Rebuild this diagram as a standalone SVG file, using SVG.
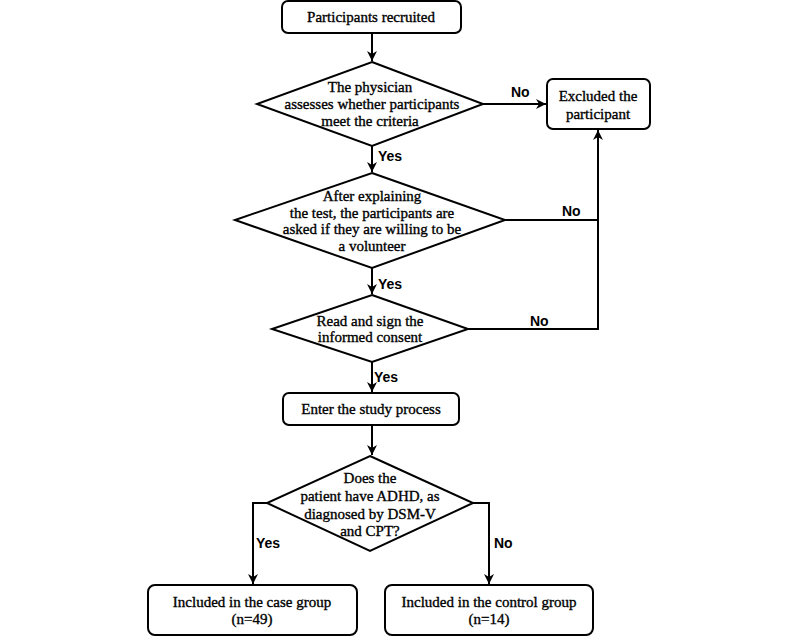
<svg xmlns="http://www.w3.org/2000/svg" width="800" height="637" viewBox="0 0 800 637">
<style>
.box{fill:#fff;stroke:#000;stroke-width:2}
.dia{fill:#fff;stroke:#000;stroke-width:2;stroke-linejoin:miter}
.t{font-family:"Liberation Serif","Times New Roman",serif;font-size:15px;fill:#000;stroke:#000;stroke-width:0.35;text-anchor:middle;dominant-baseline:central}
.lbl{font-family:"Liberation Sans",Arial,sans-serif;font-size:14px;font-weight:bold;fill:#000}
.c{fill:none;stroke:#000;stroke-width:2}
</style>
<defs>
<marker id="ah" viewBox="0 0 10 10" refX="10" refY="5" markerWidth="5" markerHeight="5" orient="auto" markerUnits="strokeWidth">
<path d="M0,0 L10,5 L0,10 L3,5 Z" fill="#000"/>
</marker>
</defs>
<rect width="800" height="637" fill="#fff"/>
<g id="connectors">
<path class="c" d="M372,33 V61" marker-end="url(#ah)"/>
<path class="c" d="M483,104 H546" marker-end="url(#ah)"/>
<path class="c" d="M372,146 V172" marker-end="url(#ah)"/>
<path class="c" d="M505,220 H598"/>
<path class="c" d="M372,268 V294" marker-end="url(#ah)"/>
<path class="c" d="M468,329 H598 V130" marker-end="url(#ah)"/>
<path class="c" d="M372,362 V392" marker-end="url(#ah)"/>
<path class="c" d="M372,425 V455" marker-end="url(#ah)"/>
<path class="c" d="M267,503 H253 V584" marker-end="url(#ah)"/>
<path class="c" d="M473,503 H489 V584" marker-end="url(#ah)"/>
<text class="lbl" x="511" y="97">No</text>
<text class="lbl" x="378" y="161">Yes</text>
<text class="lbl" x="562" y="216">No</text>
<text class="lbl" x="378" y="289">Yes</text>
<text class="lbl" x="530" y="326">No</text>
<text class="lbl" x="374" y="382">Yes</text>
<text class="lbl" x="256" y="548">Yes</text>
<text class="lbl" x="494" y="548">No</text>
</g>
<g id="n1">
<rect class="box" x="282" y="1" width="179" height="32" rx="6"/>
<text class="t" x="371" y="17">Participants recruited</text>
</g>
<g id="d1">
<polygon class="dia" points="372,62 483,104 372,146 257,104"/>
<text class="t" x="370" y="87.3">The physician</text>
<text class="t" x="372" y="104">assesses whether participants</text>
<text class="t" x="370" y="120.7">meet the criteria</text>
</g>
<g id="excluded">
<rect class="box" x="547" y="79" width="103" height="50" rx="6"/>
<text class="t" x="598" y="96">Excluded the</text>
<text class="t" x="598" y="114">participant</text>
</g>
<g id="d2">
<polygon class="dia" points="372,173 505,220 372,268 235,220"/>
<text class="t" x="372" y="196">After explaining</text>
<text class="t" x="372" y="212.7">the test, the participants are</text>
<text class="t" x="372" y="229.4">asked if they are willing to be</text>
<text class="t" x="372" y="246.1">a volunteer</text>
</g>
<g id="d3">
<polygon class="dia" points="372,295 468,329 372,362 272,329"/>
<text class="t" x="370" y="320.5">Read and sign the</text>
<text class="t" x="370" y="337.2">informed consent</text>
</g>
<g id="n2">
<rect class="box" x="283" y="393" width="176" height="32" rx="6"/>
<text class="t" x="371" y="409">Enter the study process</text>
</g>
<g id="d4">
<polygon class="dia" points="370,456 473,503 370,551 267,503"/>
<text class="t" x="370" y="478">Does the</text>
<text class="t" x="370" y="496">patient have ADHD, as</text>
<text class="t" x="370" y="514">diagnosed by DSM-V</text>
<text class="t" x="370" y="531">and CPT?</text>
</g>
<g id="case">
<rect class="box" x="148" y="585" width="209" height="50" rx="7"/>
<text class="t" x="252" y="602">Included in the case group</text>
<text class="t" x="252" y="619">(n=49)</text>
</g>
<g id="control">
<rect class="box" x="385" y="585" width="208" height="50" rx="7"/>
<text class="t" x="489" y="602">Included in the control group</text>
<text class="t" x="489" y="619">(n=14)</text>
</g>
</svg>
